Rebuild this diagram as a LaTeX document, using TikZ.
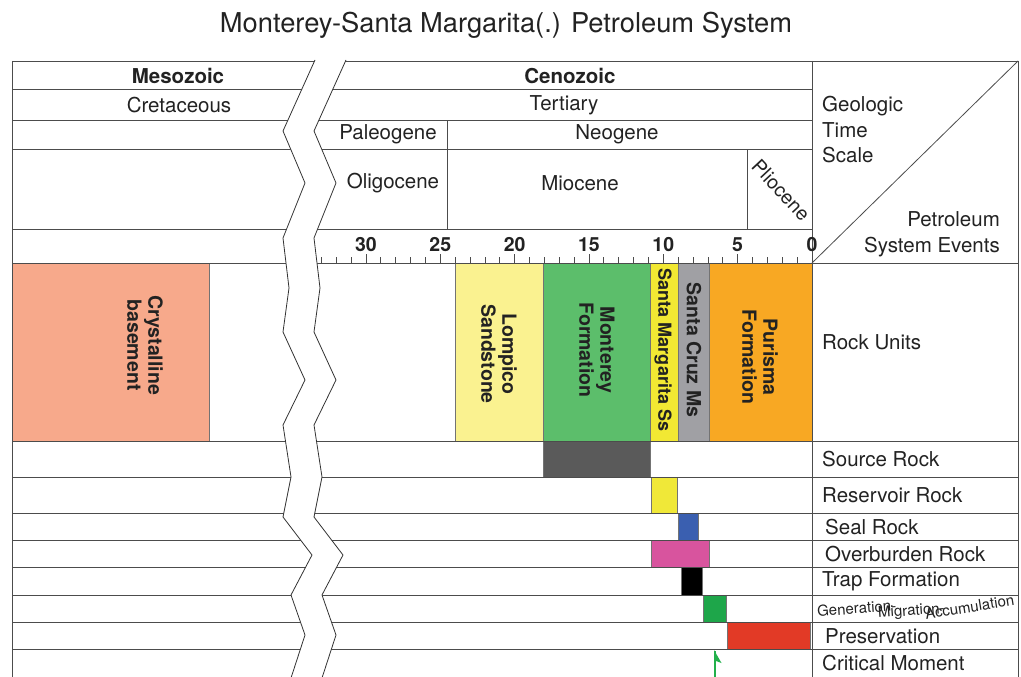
\documentclass[tikz,border=0pt]{standalone}
\usepackage{fontspec}
\setmainfont{TeX Gyre Heros}
\definecolor{crys}{HTML}{F7A98B}
\definecolor{lomp}{HTML}{FAF290}
\definecolor{mont}{HTML}{5CBE6B}
\definecolor{smarg}{HTML}{F2E833}
\definecolor{scruz}{HTML}{A0A0A4}
\definecolor{puri}{HTML}{F8A823}
\definecolor{srcr}{HTML}{5A5A5A}
\definecolor{resr}{HTML}{F0E838}
\definecolor{seal}{HTML}{3A5FB0}
\definecolor{ovb}{HTML}{D8549E}
\definecolor{gma}{HTML}{1EA64A}
\definecolor{pres}{HTML}{E23A26}
\definecolor{crit}{HTML}{22B04B}
\definecolor{ink}{HTML}{222222}
\begin{document}
\begin{tikzpicture}[x=1pt,y=-1pt,
  lbl/.style={font=\fontsize{20.5}{24}\selectfont, text=ink, inner sep=0pt},
  bl/.style={font=\fontsize{20.5}{24}\selectfont\bfseries, text=ink, inner sep=0pt},
  rk/.style={font=\fontsize{19.5}{21}\selectfont\bfseries, text=ink, inner sep=0pt, rotate=-90, align=center},
  ev/.style={lbl, anchor=west},
  gm/.style={font=\fontsize{15}{17}\selectfont, text=ink, inner sep=0pt},
  rule/.style={draw=black!70, line width=0.8pt},
  box/.style={draw=black!55, line width=0.5pt}]
\useasboundingbox (0,0) rectangle (1021,677);
\node[lbl, font=\fontsize{27.3}{31}\selectfont] (title) at (506,25) {Monterey-Santa Margarita(.) Petroleum System};

% rock units
\path[box, fill=crys]  (12,263) rectangle (209,441);
\path[box, fill=lomp]  (455,263) rectangle (543,441);
\path[box, fill=mont]  (543,263) rectangle (650,441);
\path[box, fill=smarg] (650,263) rectangle (678,441);
\path[box, fill=scruz] (678,263) rectangle (709,441);
\path[box, fill=puri]  (709,263) rectangle (812,441);

% events
\path[box, fill=srcr] (543,441) rectangle (650,477);
\path[box, fill=resr] (651,477) rectangle (677,513);
\path[box, fill=seal] (678,513) rectangle (698,540);
\path[box, fill=ovb]  (651,540) rectangle (709,567);
\path[box, fill=black] (681,567) rectangle (702,595);
\path[box, fill=gma]  (703,595) rectangle (726,622);
\path[box, fill=pres] (727,622) rectangle (810,649);

% horizontal rules
\foreach \y in {61,89,120,149,229,263} \draw[rule] (12,\y) -- (812,\y);
\draw[rule] (812,61) -- (1018,61);
\draw[rule] (812,263) -- (1018,263);
\foreach \y in {441,477,513,540,567,595,622,649} \draw[rule] (12,\y) -- (1018,\y);
% vertical rules
\draw[rule] (12,61) -- (12,677);
\draw[rule] (812,61) -- (812,677);
\draw[rule] (1018,61) -- (1018,677);
\draw[rule] (447,120) -- (447,229);
\draw[rule] (747,149) -- (747,229);
\draw[rule] (812,263) -- (1018,61);

% ticks
\foreach \m in {1,...,33} \draw[rule, line width=0.7pt] ({812-14.87*\m},263) -- ++(0,-6);
\foreach \m in {5,10,...,30} \draw[rule, line width=0.7pt] ({812-14.87*\m},263) -- ++(0,-9);
\foreach \m in {0,5,10,...,30} \node[bl, font=\fontsize{19.5}{22}\selectfont\bfseries] (n\m) at ({812-14.87*\m},245) {\m};

% break band
\fill[white] (315,60) -- (283,131) -- (305,183) -- (283,238) -- (289,288) -- (283,332) -- (305,380) -- (283,425) -- (291,477) -- (283,517) -- (312,555) -- (291,595) -- (305,635) -- (291,678)
  -- (322,678) -- (336,635) -- (322,595) -- (343,555) -- (314,517) -- (322,477) -- (314,425) -- (336,380) -- (314,332) -- (320,288) -- (314,238) -- (336,183) -- (314,131) -- (346,60) -- cycle;
\draw[black!80, line width=0.8pt, line join=round] (315,60) -- (283,131) -- (305,183) -- (283,238) -- (289,288) -- (283,332) -- (305,380) -- (283,425) -- (291,477) -- (283,517) -- (312,555) -- (291,595) -- (305,635) -- (291,678);
\draw[black!80, line width=0.8pt, line join=round] (346,60) -- (314,131) -- (336,183) -- (314,238) -- (320,288) -- (314,332) -- (336,380) -- (314,425) -- (322,477) -- (314,517) -- (343,555) -- (322,595) -- (336,635) -- (322,678);

% time scale labels
\node[bl] (meso) at (178,76) {Mesozoic};
\node[lbl] (cret) at (179,105) {Cretaceous};
\node[bl] (ceno) at (570,76) {Cenozoic};
\node[lbl] (tert) at (564,105) {Tertiary};
\node[lbl] (paleo) at (388,134) {Paleogene};
\node[lbl] (neo) at (617,134) {Neogene};
\node[lbl] (oligo) at (393,183) {Oligocene};
\node[lbl] (mio) at (580,183) {Miocene};
\node[lbl, font=\fontsize{19.5}{22}\selectfont, rotate=-47] (plio) at (781,190) {Pliocene};
\node[lbl, anchor=north west, align=left, font=\fontsize{20.5}{25.5}\selectfont] (gts) at (822,96) {Geologic\\Time\\Scale};
\node[lbl, anchor=south east, align=right, font=\fontsize{20.5}{26}\selectfont] (pse) at (1000,257) {Petroleum\\System Events};

% rock unit labels
\node[rk] (cb) at (145,345) {Crystalline\\basement};
\node[rk] (ls) at (499,354) {Lompico\\Sandstone};
\node[rk] (mf) at (597,350) {Monterey\\Formation};
\node[rk, font=\fontsize{18}{20}\selectfont\bfseries] (sm) at (663,350) {Santa Margarita Ss};
\node[rk] (sc) at (694,350) {Santa Cruz Ms};
\node[rk] (pf) at (760,357) {Purisma\\Formation};

% event labels
\node[ev] (ru) at (822,342) {Rock Units};
\node[ev] (sr) at (822,459) {Source Rock};
\node[ev] (rr) at (822,495) {Reservoir Rock};
\node[ev] (slr) at (825,527) {Seal Rock};
\node[ev] (or) at (825,554) {Overburden Rock};
\node[ev] (tf) at (822,581) {Trap Formation};
\node[ev] (pr) at (825,636) {Preservation};
\node[ev] (cm) at (822,663) {Critical Moment};
\node[gm, anchor=west, rotate=4] (gen) at (817,611) {Generation-};
\node[gm, anchor=west, rotate=4] (mig) at (878,614) {Migration-};
\node[gm, anchor=west, rotate=9] (acc) at (925,614) {Accumulation};

% critical moment arrow
\coordinate (cmb) at (715,677);
\coordinate (cmt) at (715,651);
\draw[crit, line width=1.8pt] (cmb) -- (cmt);
\fill[crit] (714,650) -- (721.5,663) -- (716,661) -- cycle;
\end{tikzpicture}
\end{document}
